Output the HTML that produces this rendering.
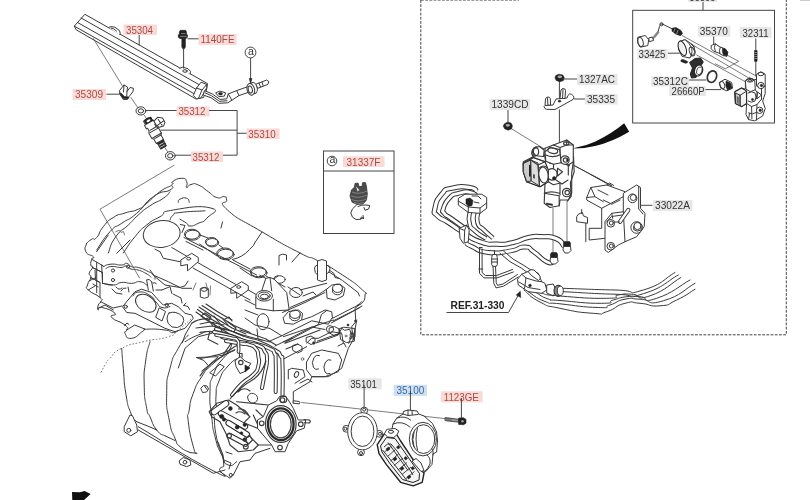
<!DOCTYPE html>
<html lang="en">
<head>
<meta charset="utf-8">
<title>Parts diagram</title>
<style>
html,body{margin:0;padding:0;background:#fff;}
body{width:810px;height:500px;overflow:hidden;font-family:"Liberation Sans",sans-serif;}
svg{display:block;filter:blur(.35px);}
.l{fill:none;stroke:#3a3a3a;stroke-width:1;stroke-linecap:round;stroke-linejoin:round;}
.t{fill:none;stroke:#444;stroke-width:.7;stroke-linecap:round;stroke-linejoin:round;}
.w{fill:#fff;stroke:#3a3a3a;stroke-width:1;stroke-linejoin:round;}
.k{fill:#222;stroke:#222;stroke-width:.6;stroke-linejoin:round;}
.g{fill:#9a9a9a;stroke:#333;stroke-width:.8;stroke-linejoin:round;}
.d{fill:none;stroke:#444;stroke-width:1;stroke-dasharray:2.8 1.4;}
.dot{fill:none;stroke:#555;stroke-width:.8;stroke-dasharray:1.6 1.8;}
.lead{fill:none;stroke:#3c3c3c;stroke-width:.95;}
text{font-family:"Liberation Sans",sans-serif;font-size:10.6px;}
#harness .l,#valve .l,#valve .w{stroke-width:1.150;}
.rb{fill:#f8dad7;} .rt{fill:#ab4c47;}
.bb{fill:#cfe0f3;} .bt{fill:#3c6a9e;}
.gb{fill:#e7e7e7;} .gt{fill:#333;}
</style>
</head>
<body>
<svg width="810" height="500" viewBox="0 0 810 500">
<rect width="810" height="500" fill="#fff"/>

<!-- ===== LABELS ===== -->
<g id="labels">
<rect class="rb" x="123.5" y="24.5" width="33.5" height="10.5"/><text class="rt" x="126" y="33.6" textLength="27" lengthAdjust="spacingAndGlyphs">35304</text>
<rect class="rb" x="198.5" y="34" width="38" height="11"/><text class="rt" x="200.5" y="43.4" textLength="34" lengthAdjust="spacingAndGlyphs">1140FE</text>
<rect class="rb" x="72.5" y="89" width="33.5" height="11"/><text class="rt" x="75" y="98.4" textLength="28" lengthAdjust="spacingAndGlyphs">35309</text>
<rect class="rb" x="176.500" y="106.500" width="33" height="10"/><text class="rt" x="178.400" y="115.300" textLength="27" lengthAdjust="spacingAndGlyphs">35312</text>
<rect class="rb" x="246.500" y="128.500" width="33" height="10.600"/><text class="rt" x="248.300" y="137.600" textLength="27.300" lengthAdjust="spacingAndGlyphs">35310</text>
<rect class="rb" x="191" y="151.500" width="32" height="10.500"/><text class="rt" x="192.500" y="160.600" textLength="27" lengthAdjust="spacingAndGlyphs">35312</text>
<rect class="rb" x="343" y="156.3" width="41.5" height="10.7"/><text class="rt" x="346.5" y="165.5" textLength="34" lengthAdjust="spacingAndGlyphs">31337F</text>
<rect class="rb" x="440.900" y="391.300" width="41.700" height="11.100"/><text class="rt" x="443.700" y="400.700" textLength="35.200" lengthAdjust="spacingAndGlyphs">1123GE</text>
<rect class="bb" x="393.700" y="384.800" width="33.300" height="11.100"/><text class="bt" x="396.500" y="394.200" textLength="27.800" lengthAdjust="spacingAndGlyphs">35100</text>
<rect class="gb" x="348.300" y="378.300" width="33.400" height="11.100"/><text class="gt" x="350.200" y="387.700" textLength="26.800" lengthAdjust="spacingAndGlyphs">35101</text>
<rect class="gb" x="489.5" y="99" width="40.5" height="11"/><text class="gt" x="491.5" y="108.4" textLength="37" lengthAdjust="spacingAndGlyphs">1339CD</text>
<rect class="gb" x="577" y="74" width="40.5" height="11"/><text class="gt" x="579" y="83.4" textLength="36" lengthAdjust="spacingAndGlyphs">1327AC</text>
<rect class="gb" x="585" y="94" width="32.5" height="10.5"/><text class="gt" x="587" y="103.2" textLength="28" lengthAdjust="spacingAndGlyphs">35335</text>
<rect class="gb" x="697.800" y="26" width="32.500" height="10.600"/><text class="gt" x="699.800" y="35.200" textLength="28" lengthAdjust="spacingAndGlyphs">35370</text>
<rect class="gb" x="740" y="27" width="31.5" height="11"/><text class="gt" x="742.5" y="36.5" textLength="26" lengthAdjust="spacingAndGlyphs">32311</text>
<rect class="gb" x="637.500" y="49" width="30" height="10.300"/><text class="gt" x="638.500" y="58" textLength="27" lengthAdjust="spacingAndGlyphs">33425</text>
<rect class="gb" x="651.200" y="76.500" width="37.800" height="10"/><text class="gt" x="653" y="85.300" textLength="34.800" lengthAdjust="spacingAndGlyphs">35312C</text>
<rect class="gb" x="669.200" y="86" width="36.600" height="10"/><text class="gt" x="671.600" y="94.600" textLength="33" lengthAdjust="spacingAndGlyphs">26660P</text>
<rect class="gb" x="653" y="200" width="39.5" height="11"/><text class="gt" x="655" y="209.4" textLength="35" lengthAdjust="spacingAndGlyphs">33022A</text>
<rect class="gb" x="688" y="-9" width="29" height="11"/><text class="gt" x="689.5" y="0.8" textLength="26" lengthAdjust="spacingAndGlyphs">35305</text>
<text x="450.500" y="309" font-weight="bold" font-size="11.200" fill="#222" textLength="54" lengthAdjust="spacingAndGlyphs">REF.31-330</text>
</g>

<!-- ===== BOXES ===== -->
<g id="boxes">
<path class="d" d="M420.800,0V334.800H786.300V0"/>
<path class="d" d="M421,.4H519" stroke-opacity=".6"/>
<rect class="lead" x="632.700" y="10.300" width="141.800" height="112.700" stroke-width="1.250"/>
<path class="lead" d="M703,2V10"/>
<rect class="lead" x="323.5" y="151" width="70.5" height="82.5"/>
<path class="lead" d="M323.5,171H394"/>
<circle class="lead" cx="332" cy="161" r="4.8"/>
<text x="329.6" y="163.4" font-size="7.5" fill="#333">a</text>
<path d="M800,0h10" stroke="#999" stroke-width="1"/>
</g>

<!-- ===== FUEL RAIL GROUP ===== -->
<g id="rail">
<!-- rail body -->
<path class="w" d="M84.900,14.300 L207.500,83.600 L206.500,90 L203.500,97.500 L196,99 L76.200,29.800 L74.300,26.100 Z"/>
<path class="l" d="M81.100,18 L204,87.400"/>
<path class="l" d="M77.400,22.400 L200,91.600"/>
<path class="l" d="M74.300,26.100 L196,94.800"/>
<!-- small mounts on top of rail -->
<path class="w" d="M108.400,27.600 l2.500,-1 l4,.6 l4.600,3.400 l.7,2.600 l-.5,1.700"/>
<path class="l" d="M111,28 q3,.2 5.500,3"/>
<path class="w" d="M179.500,68.500 l3,-1.400 l5.500,1.600 l2.500,2.600 l-.6,3"/>
<ellipse class="l" cx="185" cy="71" rx="2.200" ry="1.300"/>
<!-- leader 35304 -->
<path class="lead" d="M139.200,35V45.300"/>
<!-- bolt 1140FE -->
<path class="k" d="M180.300,30.300 h5.400 l.8,1.600 v2.200 l1,.8 v2.400 l-1.600,1.200 h-6 l-1.600,-1.200 v-2.400 l1,-.8 v-2.200z"/>
<path class="k" d="M181.800,38.500 h3.600 v8.500 l-1,1.800 h-1.600 l-1,-1.800z"/>
<path d="M181,33.600h4.600M180,36.400h6.800" stroke="#ddd" stroke-width=".5" fill="none"/>
<path class="lead" d="M183.600,48.800V68.500"/>
<path class="lead" d="M187.500,38.800H198.500"/>
<!-- leader rail -> clip -->
<path class="t" d="M93.300,38.500 L122.500,86"/>
<!-- clip 35309 -->
<path class="w" d="M119.500,90.500 l4.500,-5.500 l3.500,2 l-.5,4.500 l3,-4 l3.500,.8 l-.6,3.400 l-3.600,4.600 l-1.300,2.700 l-4.500,.7 l-3.500,-5.200z"/>
<path class="k" d="M119.600,93.200 l3.600,5.300 l4.300,.6 l1.200,-2.200 l-4.300,-.5 l-3.400,-3.400z"/>
<path class="l" d="M124,85 l-.5,7 M127,91.500 l-.3,5"/>
<path class="lead" d="M106.500,94.200H119.500"/>
<path class="t" d="M131,97.500 L137.800,107.700"/>
<!-- upper o-ring -->
<ellipse class="l" cx="140.900" cy="110.900" rx="4.900" ry="4.100" stroke-width="1.200"/>
<ellipse class="l" cx="140.900" cy="110.900" rx="2.700" ry="2.100" />
<path class="lead" d="M146,110.500H176.500"/>
<path class="t" d="M144,115 L146.500,118.500"/>
<!-- bracket lines 35312 / 35310 -->
<path class="lead" d="M209,110.500H237.100V155.200H223"/>
<path class="lead" d="M237.100,133.250H246.500"/>
<path class="lead" d="M160.500,130.150 H237.100"/>
<!-- injector -->
<g transform="translate(155.300,132.500) rotate(60)">
<path class="w" d="M-15.500,-3.600 h4 v-1.200 h4 v1.200 h3 l2,-1.400 h6 l1.500,1.400 h5 v1 h7 v6.200 h-7 v1 h-5 l-1.500,1.400 h-6 l-2,-1.400 h-3 v1.200 h-4 v-1.200 h-4 q-1.600,-3.800 0,-7.600z"/>
<path class="k" d="M-15.500,-3.800 h4 v7.600 h-4 q-1.600,-3.800 0,-7.600z"/>
<ellipse cx="-13.600" cy="0" rx="1.100" ry="2.200" fill="#fff"/>
<path class="l" d="M-4.500,-3.600 v7.200 M-2.500,-5 v10 M3.500,-5 v10 M5,-3.600 v7.200 M10,-3.600 v7.200"/>
<path class="k" d="M10.500,-3.400 h1.800 v6.800 h-1.800z M13.600,-3.400 h1.200 v6.800 h-1.200z M16,-3.200 h1 v6.400 h-1z"/>
<path class="w" d="M-10.500,-4.500 l-1.500,-5 l3,-4 l5,0 l2.500,3 l-1,4.500 l-3,1.500z"/>
<path class="l" d="M-10,-9 l7,-.5 M-6,-13 l1,8"/>
</g>
<!-- lower o-ring -->
<ellipse class="l" cx="170.300" cy="155.800" rx="4.900" ry="4.200" stroke-width="1.200"/>
<ellipse class="l" cx="170.300" cy="155.800" rx="2.700" ry="2.200"/>
<path class="lead" d="M175.300,155.200H191"/>
<path class="t" d="M164.500,147 L167.500,151.500"/>
<!-- thin location leader -->
<path class="t" d="M174,165.300 L100,209.200 L139.500,278"/>
<!-- end cap + pipe -->
<path class="w" d="M193.300,95.500 L196.500,88 L201.100,82.200 L206.700,84.400 L206.700,87.800 L201.100,97.800 L196.700,98.900z"/>
<path class="l" d="M196.500,88 L202,90 L206.700,84.400 M202,90 L198.500,98.300"/>
<path class="w" d="M204.400,90.600 L212.200,93.900 L220,99.400 L226.700,98.900 L228.300,93.900 L236.700,90.600 L247.800,86.700 L248.900,92.200 L238.900,95.600 L232.200,100 L227.800,102.800 L218.900,103.300 L211.100,97.800 L203.300,95z"/>
<path class="l" d="M228.300,93.900 L231.700,100 M236.700,90.600 L238.900,95.600 M205,92.800 L211.600,95.800 L219.400,101.300 L227,100.800"/>
<path class="w" d="M215.600,92.800 L220,91.100 L225.600,92.800 L224.400,96.100 L218.900,96.700z"/>
<ellipse class="k" cx="220.500" cy="93.800" rx="2" ry="1.200"/>
<!-- connector -->
<path class="w" d="M255.600,84.400 L266.700,80 L268.900,81.700 L267.800,84.400 L257.800,88.300z"/>
<path class="l" d="M259,83 l1.500,4 M262,82 l1,3.500"/>
<ellipse class="w" cx="253.800" cy="88" rx="3.300" ry="5.600" transform="rotate(-15 253.800 88)"/>
<ellipse class="w" cx="250.800" cy="89.300" rx="3.700" ry="6" transform="rotate(-15 250.800 89.300)" stroke-width="1.300"/>
<ellipse class="l" cx="250.300" cy="89.500" rx="2" ry="3.600" transform="rotate(-15 250.300 89.500)"/>
<!-- circle a -->
<circle class="lead" cx="250.500" cy="52.500" r="5.400"/>
<text x="248" y="55" font-size="7.500" fill="#333">a</text>
<path class="lead" d="M250.600,58V80"/>
<path class="k" d="M249.300,78.500 h2.600 l-1.300,5z"/>
</g>

<!-- ===== ENGINE: VALVE COVER ===== -->
<g id="cover">
<!-- outer wavy top-left edges -->
<path class="l" d="M86.7,243.3 C88.4,241.9 88.4,241.1 91.7,239.2 C95.0,237.3 92.8,241.7 96.7,237.5 C100.6,233.3 97.8,233.4 103.3,226.7 C108.8,220.0 106.1,222.1 113.3,217.5 C120.5,212.9 116.7,215.8 125.0,213.0 C133.3,210.2 131.1,212.4 138.3,209.2 C145.5,206.0 139.5,209.1 146.7,203.3 C153.9,197.5 151.7,197.8 160.0,191.7 C168.3,185.6 167.5,188.3 171.7,185.0 C175.9,181.7 169.2,183.9 172.5,181.7 C175.8,179.5 177.0,178.3 181.7,178.3 C186.4,178.3 185.0,178.6 186.7,181.7 C188.4,184.8 185.3,186.6 186.7,187.5 C188.1,188.4 187.1,185.3 191.0,184.5 C194.9,183.7 192.5,182.6 198.3,185.0 C204.1,187.4 202.2,187.5 208.3,191.7 C214.4,195.9 211.4,195.8 216.7,197.5 C222.0,199.2 220.9,195.9 224.2,196.7 C227.5,197.5 225.6,195.6 226.7,200.0 C227.8,204.4 215.8,199.4 227.5,210.0 C239.2,220.6 237.5,217.4 261.7,231.7 C285.9,246.0 281.4,243.4 300.0,253.0 C318.6,262.6 303.3,253.2 317.5,260.5 C331.7,267.8 327.5,265.2 342.5,275.0 C357.5,284.8 355.0,283.3 362.5,290.0 C370.0,296.7 365.0,290.8 365.0,295.0 C365.0,299.2 365.0,299.2 362.5,302.5 C360.0,305.8 359.2,304.2 357.5,305.0"/>
<path class="l" d="M96.7,250.0 C101.1,243.9 101.7,240.6 110.0,231.7 C118.3,222.8 112.8,229.4 121.7,223.3 C130.6,217.2 126.2,222.2 136.7,213.3 C147.2,204.4 142.2,204.5 153.3,196.7 C164.4,188.9 163.9,193.6 170.0,190.0 C176.1,186.4 171.1,187.2 171.7,185.8"/>
<path class="l" d="M108.3,253.0 C110.8,247.6 109.1,246.0 115.8,236.7 C122.5,227.4 120.8,232.2 128.3,225.0 C135.8,217.8 131.1,221.4 138.3,215.0 C145.5,208.6 141.7,211.4 150.0,205.8 C158.3,200.2 156.6,203.0 163.3,198.3 C170.0,193.6 167.8,193.9 170.0,191.7"/>
<path class="l" d="M123.3,253.0 C127.2,247.6 127.2,246.0 135.0,236.7 C142.8,227.4 138.4,231.7 146.7,225.0 C155.0,218.3 151.1,221.7 160.0,216.7 C168.9,211.7 156.4,212.9 173.3,210.0 C190.2,207.1 199.7,205.2 210.8,208.0 C221.9,210.8 210.9,213.2 206.7,218.3 C202.5,223.4 203.9,220.7 198.3,223.3 C192.7,225.9 193.9,226.0 190.0,226.0 C186.1,226.0 190.0,225.6 186.7,223.3 C183.4,221.0 182.2,220.6 180.0,219.2"/>
<path class="l" d="M170.0,220.0 C171.1,218.3 170.0,217.5 173.3,215.0 C176.6,212.5 169.4,213.9 180.0,212.5 C190.6,211.1 196.7,211.4 205.0,210.8"/>
<path class="l" d="M178.3,202.5 C178.9,201.4 177.2,200.6 180.0,199.2 C182.8,197.8 183.6,197.2 186.7,198.3 C189.8,199.4 188.4,201.1 189.2,202.5"/>
<path class="t" d="M115.800,231.700 l3.400,-1.500 l1.800,2.200 l2.500,-.8 l1,3.300"/>
<!-- oil filler cap -->
<ellipse class="w" cx="161.700" cy="234" rx="18.500" ry="13.300" transform="rotate(-8 161.700 234)"/>
<path class="l" d="M180.500,224.500 l4.500,1 l-3,7"/>
<!-- coil holes -->
<g class="l">
<ellipse cx="192" cy="234.200" rx="7.500" ry="5"/><ellipse cx="192.800" cy="235.200" rx="7.500" ry="5"/>
<ellipse cx="211.700" cy="241.700" rx="6.300" ry="4.200"/><ellipse cx="212.300" cy="242.700" rx="6.300" ry="4.200"/>
<ellipse cx="225" cy="253.300" rx="8.300" ry="5.300"/><ellipse cx="225.800" cy="254.500" rx="8.300" ry="5.300"/>
<ellipse cx="258.300" cy="271.700" rx="8" ry="5"/><ellipse cx="259" cy="272.800" rx="8" ry="5"/>
<ellipse cx="279.200" cy="279.500" rx="6" ry="3.800"/>
<ellipse cx="296" cy="292.500" rx="6.300" ry="5"/>
</g>
<!-- rails along coil row -->
<path class="l" d="M184,237.500 L256.700,275 M186,241.500 L203,250 M171.700,247.500 L236.700,285 M199.500,244 L217,256 M233,260 L250,269 M240,268 L252,276 M266,276 L285,287 M288,287 L300,295"/>
<path class="l" d="M200,235 l8,3 M219,245 l4,3 M232.500,259.500 q10,-2 17,-10 q5,-4 6,-8 M221,228 l1.500,-6"/>
<!-- brackets -->
<path class="w" d="M180.800,260 L191.700,253.300 L198.300,257.500 L198.300,261.700 L187.500,270.800 L187.500,264.500 L180.800,265.800z"/>
<ellipse class="l" cx="188.700" cy="258.700" rx="2" ry="1.300"/>
<path class="w" d="M230.800,288.300 L241.700,281.700 L248.300,285.800 L248.300,290 L236.700,298.300 L236.700,292.500 L230.800,293.300z"/>
<ellipse class="l" cx="238.700" cy="287" rx="2" ry="1.300"/>
<!-- cover front lower lines -->
<path class="l" d="M155,249.200 L160,251.700 L163.300,258.300 L171.700,260 L180,261.700"/>
<path class="l" d="M193,268 L250,300 M248.300,290 L262,298"/>
<path class="l" d="M150,270 L155,276.700 L165,285 L180,287.500 L185,285.800 L188,281"/>
<path class="t" d="M193,290 l3,-7 M206,283 l2,8 M210.500,286 l-.5,9"/>
<!-- sensor on cover front -->
<path class="w" d="M200.300,288.500 q4,-2.500 8,0 v8.500 q-4,2.500 -8,0z"/>
<ellipse class="l" cx="204.300" cy="289.500" rx="3" ry="1.800"/>
<!-- hook + cylinder on right -->
<path class="l" d="M279,265 V255.500 q3.500,-2.500 7.500,-.5 V260"/>
<path class="w" d="M317.500,261 q4.500,-3 9,0 V280 q-4.500,3 -9,0z"/>
<path class="l" d="M314.500,268 q0,-2.500 3,-3 M326.500,265 q3.500,.5 3.500,3.500 q0,4.500 -3.500,5.500 M317.500,275 q-3,-1.500 -3,-6.500"/>
<path class="l" d="M330,270.500 l4,3 l1,4 l4,1"/>
</g>

<!-- ===== ENGINE: HEAD LEFT SIDE ===== -->
<g id="headleft">
<path class="l" d="M86.7,243.3 C86.4,246.1 83.6,247.2 85.8,251.7 C88.0,256.2 91.3,254.2 93.3,256.7 C95.3,259.2 92.5,256.4 91.7,259.2 C90.9,262.0 90.5,262.2 90.8,265.0 C91.1,267.8 93.0,264.7 92.5,267.5 C92.0,270.3 89.8,270.0 89.2,273.3 C88.6,276.6 91.4,273.6 90.8,277.5 C90.2,281.4 88.3,280.8 87.5,285.0 C86.7,289.2 84.1,285.8 88.3,290.0 C92.5,294.2 95.8,293.6 100.0,297.5 C104.2,301.4 101.4,299.2 100.8,301.7 C100.2,304.2 99.1,302.2 98.3,305.0 C97.5,307.8 97.2,309.2 98.3,310.0 C99.4,310.8 96.1,306.4 101.7,307.5 C107.3,308.6 111.7,310.0 115.0,313.3 C118.3,316.6 108.4,313.6 111.7,317.5 C115.0,321.4 120.0,320.8 125.0,325.0 C130.0,329.2 126.7,327.2 126.7,330.0 C126.7,332.8 123.3,330.5 125.0,333.3 C126.7,336.1 125.6,339.1 131.7,338.3 C137.8,337.5 138.3,333.8 143.3,330.8 C148.3,327.8 139.5,329.5 146.7,329.2 C153.9,328.9 156.1,328.9 165.0,330.0 C173.9,331.1 168.0,333.2 173.3,332.5 C178.6,331.8 178.4,329.5 181.0,328.0"/>
<path class="l" d="M91.700,259.200 L103.300,266 M92.500,267.500 L102.500,272.500 M90.800,277.500 L100,282.500 L100,297.500 M101.700,265 L102.500,283.300 L112.500,285 M88.300,290 L95,286 M95,270 L95.500,279 M100.800,301.700 L113,308 L122,306"/>
<path class="l" d="M96.700,251.700 L108.300,235 M116.700,253.300 L130,240"/>
<path class="l" d="M96.700,262.500 L96.700,292.500 M92.500,267.500 L102.500,272.500 L102.500,283.300 M90.800,277.500 L100,282.500 M93,284 l5,3 M89,281 l6,-3"/>
<!-- upper heat-shield flange -->
<path class="l" stroke-width="1.300" d="M103.3,266.7 C105.8,265.9 104.7,264.8 110.8,264.2 C116.9,263.6 116.4,265.3 121.7,265.0 C127.0,264.7 123.4,262.7 126.7,263.3 C130.0,263.9 127.8,265.3 131.7,266.7 C135.6,268.1 133.3,266.1 138.3,267.5 C143.3,268.9 141.7,268.3 146.7,270.8 C151.7,273.3 150.5,272.2 153.3,275.0 C156.1,277.8 154.4,277.8 155.0,279.2"/>
<path class="l" d="M106.0,268.5 C108.0,267.8 107.0,266.8 112.0,266.5 C117.0,266.2 116.3,267.7 121.0,267.5 C125.7,267.3 122.7,265.5 126.0,266.0 C129.3,266.5 127.0,267.7 131.0,269.0 C135.0,270.3 133.0,268.5 138.0,270.0 C143.0,271.5 141.7,271.2 146.0,273.5 C150.3,275.8 149.3,275.8 151.0,277.0"/>
<path class="l" d="M102.5,283.3 C106.1,283.9 106.9,285.3 113.3,285.0 C119.7,284.7 115.6,283.1 121.7,282.5 C127.8,281.9 125.6,283.6 131.7,283.3 C137.8,283.0 135.0,281.1 140.0,281.7 C145.0,282.3 144.5,283.9 146.7,285.0"/>
<circle class="l" cx="113" cy="270.500" r="1.600"/><circle class="l" cx="128" cy="266.700" r="1.600"/><circle class="l" cx="113" cy="280" r="1.600"/>
<path class="l" d="M116,287 q3,4 6,1 M121,291 q2,-4 5,-3 M128,287 l1,5 M112,289 l4,4 l6,1"/>
<path class="l" d="M146.700,280 l1.600,10 M151.700,282 l1.600,9 M146.700,280 q2.500,-2 5,2 M153,283 q2,-1 3.300,.5"/>
<path class="l" d="M155,275.800 L168.300,281.700 L181.700,288.300 L191.700,288.300 M161.700,290 L170,286.700 L171.700,293.300 M156,290 l5.500,0 M173,294 l8,4 l1,5"/>
<!-- exhaust flange -->
<path class="w" d="M122.500,306.700 L135,291.700 L141.700,289.200 L151.700,292.500 L158.300,300 L163.300,305 L171.700,303.300 L178.300,306.700 L185,313.300 L191.700,315 L193.300,318.300 L185,328.300 L175,331.700 L165,328.300 L135,313.300 L126.700,312.500z"/>
<path class="l" d="M133.0,296.0 C135.0,294.7 133.3,292.2 139.0,292.0 C144.7,291.8 144.3,292.2 150.0,295.5 C155.7,298.8 152.0,298.0 156.0,302.0 C160.0,306.0 157.3,306.0 162.0,307.5 C166.7,309.0 167.3,306.8 170.0,306.5"/>
<ellipse class="l" cx="145.800" cy="303.300" rx="11.200" ry="7.800" transform="rotate(33 145.800 303.300)"/>
<path class="l" d="M159.500,308 l6,3.500 l-3.500,9.500 l-6,-3.500z"/>
<path class="l" d="M169,313 q7,-3 14,4 q2,3 -1,8 q-4,4 -10,2 q-5,-3 -5,-8 q0,-4 2,-6z"/>
<circle class="l" cx="125.800" cy="306.700" r="1.600"/><circle class="l" cx="166.700" cy="305" r="1.600"/>
<path class="l" d="M184,305.500 l4,1 l1.500,3 M186,303 l-2.500,2.500"/>
<!-- lower bits -->
<path class="l" d="M98.300,308.300 L105,305 L113.300,310 M124.500,325.500 l2.500,-2.500 l2,1.500 M126.700,330 l8,-5 l10,4"/>
<!-- dotted curve -->
<path class="dot" d="M101.0,372.5 C102.3,370.0 102.0,369.7 105.0,365.0 C108.0,360.3 104.4,363.9 110.0,358.3 C115.6,352.7 110.6,353.8 121.7,348.3 C132.8,342.8 127.8,345.6 143.3,341.7 C158.8,337.8 156.6,340.6 168.3,336.7 C180.0,332.8 170.5,336.1 178.3,330.0 C186.1,323.9 187.2,322.2 191.7,318.3"/>
</g>

<!-- ===== ENGINE: HEAD RIGHT SIDE ===== -->
<g id="headright">
<!-- filler neck -->
<path class="w" d="M261.700,290.800 L265.800,278.300 L270,277.500 L274,279 L286.700,292.500 L289.200,310 L273.300,310.800 L255.800,308.300 L255.800,297z"/>
<path class="l" d="M270,277.500 L271.700,290.800 M273.300,299.200 V310.800 M265.800,278.300 l-6,-3 M274,279 l4,-3"/>
<ellipse class="w" cx="264.200" cy="295.800" rx="8.300" ry="5.300"/>
<ellipse class="l" cx="264.200" cy="295.800" rx="6" ry="3.700" stroke-width="1.300"/>
<ellipse class="l" cx="264.500" cy="296.500" rx="4" ry="2.300"/>
<!-- bosses -->
<path class="l" d="M326.700,289.200 L331.700,285 L340,284.200 L345,288.300 L343.300,295.800 L335,300 L327.500,298.300z"/>
<ellipse class="l" cx="337.500" cy="288.300" rx="5" ry="4.200"/>
<path class="l" d="M332.600,288.500 v3.500 q2,3.500 7,2.500 q3,-1 2.800,-5"/>
<path class="l" d="M283.300,317.500 L288.300,311.700 L298.300,310 L302.500,313.300 L301.700,320 L293.300,324.200 L285,323.300z"/>
<ellipse class="l" cx="295" cy="314.200" rx="5.300" ry="4.200"/>
<path class="l" d="M289.800,314.500 v3.500 q2,3.500 7,2.500 q3.400,-1 3.400,-5"/>
<ellipse class="l" cx="263" cy="321.700" rx="6" ry="8"/>
<!-- cover bottom structure lines -->
<path class="l" d="M300,290 L326.700,283.300 M290,307.500 L316.700,295.800 L326.700,289.200 M303,296 l10,-4 l3,3"/>
<path class="l" d="M302,320 L311.700,316.700 L325,310 L331.700,311.700 L332.500,318.300 L358.300,305 L361.700,301.700"/>
<path class="l" d="M270,341 L281.700,335.800 L311.700,320.800 L328.300,324.200 L331.700,318.300"/>
<path class="l" d="M275,346 L283.300,342 L311.700,327 L325,329.500"/>
<circle class="l" cx="330" cy="329.200" r="3.600"/>
<path class="l" d="M245,300 L255,305 M245,310 L258,315 M245,318 L255,325 L270,328.500 L281.700,335.800 M257,329 l1,10 l12,3"/>
<path class="l" d="M329,272 L342.500,280.500 L358,292.500 L359.500,296 M282.500,312.500 L305,302.500 L325,292.500 M333.300,320.800 L360,307.500 M300,253 l-8,9 M262,232 l-6,9"/>
<path class="l" d="M285,342.500 L318.600,324.300 L321.400,314.500 L327,310.300 M331.200,323 L352.200,311.800 L362,306 M339.600,328.600 L343.800,327.200 L355,328.600 L354.300,341.200 L346.600,342.600 L341,339.800z M317.200,341.200 L341,332.800"/>
<circle class="l" cx="352" cy="335" r="2"/><circle class="k" cx="348" cy="325" r="1"/><circle class="k" cx="355.500" cy="321" r="1"/><circle class="k" cx="313.800" cy="343" r="1.200"/>
<!-- right end -->
<path class="l" d="M360,304.200 L355,308.300 L355.800,321.700 L351.700,326.700 L353.300,340 L356.700,320 M355,330 L355,336.700 L348.300,348.300 L345,358.300 L341.700,368.300 L328.300,376.700 L311.700,376.700 L310,381.700 L293.300,391.700 L293.300,403"/>
<path class="l" d="M306.700,343 L311.700,338.300 L318.300,338.300 L331.700,331.700 L341.700,333.300 L343.300,343"/>
<circle class="t" cx="352" cy="333" r="1"/><circle class="t" cx="350.500" cy="338" r="1.300"/><circle class="t" cx="346" cy="336" r="1"/>
<!-- exhaust-like port plate on right -->
<path class="l" d="M306.700,361.700 L311.700,353.300 L321.700,350 L338.300,353.300 L341.700,360 L338.300,371.700 L325,376.700 L311.700,376.700 L306.700,370z"/>
<path class="l" d="M319.500,355.500 q-3,-1.500 -5.500,2 q-3,5 -.5,10 q2,3 5,1.500 M331,360 q-3,-1.500 -5.500,2 q-3,5 -.5,10 q2,3 5,1.500"/>
<path class="l" d="M341.700,328.300 l3,2 l5,-1 l2,6 l-3,8 M338,346 l6,-3 l2,4 M300,383 l8,-4 l4,3"/>
<path class="l" d="M293,345.500 l4.500,-1.500 l4.500,2.500 v4.500 l-4.500,2 l-4.500,-2.500z M306.500,337.500 l4.500,-1.500 l4,2.500 v4.500 l-4,1.500 l-4.500,-2.500z M329.500,328 l5,-1.500 l4.500,2.500 v5 l-5,1.500 l-4.500,-2.500z"/>
<path class="l" d="M283.300,336.700 L333.300,320 M281.700,360 L306.700,346.700 M316,343 L338.300,335 L341.700,328.300 M283,342 l10,-4"/>
<path class="l" d="M288.300,370 L291.700,368.300 L303.300,370 L305,376.700 L295,383.300 M288.300,370 l0,9"/>
<ellipse class="l" cx="296.500" cy="374.500" rx="2" ry="3" transform="rotate(25 296.500 374.500)"/>
<circle class="t" cx="302.500" cy="359" r="1.300"/>
</g>

<!-- ===== ENGINE: INTAKE MANIFOLD ===== -->
<g id="manifold">
<!-- runners -->
<path class="l" d="M121.7,348.3 C122.2,355.0 121.9,353.3 123.3,368.3 C124.7,383.3 123.3,378.4 125.8,393.3 C128.3,408.2 127.2,403.5 130.8,413.0 C134.4,422.5 134.7,418.8 136.7,421.7"/>
<path class="l" d="M150.0,341.7 C148.6,347.8 147.7,345.6 145.8,360.0 C143.9,374.4 143.9,368.9 144.2,385.0 C144.5,401.1 144.8,397.7 146.7,408.3 C148.6,418.9 146.7,409.5 150.0,416.7 C153.3,423.9 151.7,423.6 156.7,430.0 C161.7,436.4 162.2,433.9 165.0,435.8"/>
<path class="l" d="M188.3,335.0 C185.0,339.4 184.4,337.2 178.3,348.3 C172.2,359.4 173.9,353.3 170.0,368.3 C166.1,383.3 167.0,376.1 166.7,393.3 C166.4,410.5 166.4,405.0 169.2,420.0 C172.0,435.0 171.4,429.4 175.0,438.3 C178.6,447.2 175.0,442.0 180.0,446.7 C185.0,451.4 186.7,450.6 190.0,452.5"/>
<path class="l" d="M230.0,350.8 C223.9,355.5 221.1,356.4 211.7,365.0 C202.3,373.6 207.8,367.3 201.7,376.7 C195.6,386.1 197.5,382.2 193.3,393.3 C189.1,404.4 190.9,400.5 189.2,410.0 C187.5,419.5 186.9,409.5 188.3,421.7 C189.7,433.9 190.5,436.2 193.3,446.7 C196.1,457.2 195.6,451.1 196.7,453.3"/>
<path class="l" d="M136.700,421.700 L150,427 L156.700,430 M165,435.800 L175,440.500 M190,452.500 L196.700,453.300"/>
<path class="l" d="M191.700,323.300 L185,335 L182.500,342.500 M178.300,368 L185,348.300 L198.300,336.700 L211.700,333.300"/>
<!-- triangle + slot + hex on plenum end -->
<path class="l" d="M196.700,357.500 L218.300,356.700 L208.300,365.800 L204.200,360.800z M208.300,365.800 L201.700,371"/>
<path class="l" d="M210,372.500 L220,364.200 L224.200,366.700 L215.800,375.800z"/>
<path class="l" d="M201,388 l2.500,-2.500 l3.500,.5 l1.500,3 l-2,3 l-3.500,.5z M204.500,386 l2.500,3.500"/>
<!-- plenum end arcs -->
<path class="l" d="M185.0,341.7 C189.4,339.5 189.4,338.3 198.3,335.0 C207.2,331.7 202.2,331.1 211.7,331.7 C221.2,332.3 220.0,332.8 226.7,336.7 C233.4,340.6 231.7,337.8 231.7,343.3 C231.7,348.8 228.4,350.0 226.7,353.3"/>
<path class="l" d="M235.0,350.0 C231.1,352.8 230.5,350.0 223.3,358.3 C216.1,366.6 217.7,363.9 213.3,375.0 C208.9,386.1 210.5,377.8 210.0,391.7 C209.5,405.6 210.0,401.7 211.7,416.7 C213.4,431.7 211.7,423.9 215.0,436.7 C218.3,449.5 217.3,445.6 221.7,455.0 C226.1,464.4 223.3,462.8 228.3,465.0 C233.3,467.2 233.9,462.8 236.7,461.7"/>
<path class="l" d="M240.0,357.0 C236.0,360.0 235.0,358.0 228.0,366.0 C221.0,374.0 223.0,371.0 219.0,381.0 C215.0,391.0 216.7,386.3 216.0,396.0 C215.3,405.7 216.7,405.3 217.0,410.0"/>
<!-- base bar -->
<path class="l" stroke-width="1.300" d="M138.3,426.7 C162.8,441.1 184.5,456.1 211.7,470.0 C238.9,483.9 216.1,471.6 220.0,468.3 C223.9,465.0 224.4,470.0 223.3,460.0 C222.2,450.0 219.7,452.7 216.7,438.3 C213.7,423.9 215.0,423.9 214.2,416.7"/>
<path class="l" d="M138.300,430 L213.300,473.300 L225,470 M220,471.700 L230,478.300 L233.300,475 L240,461.700 L250,460 L255,453.300 L270,448.300"/>
<path class="l" d="M218,442 l5,13 l1,8 M226,452 l6,2 M224,460 l7,3 l-2,6"/>
<circle class="l" cx="230.800" cy="475" r="1.600"/>
<!-- tabs -->
<path class="w" d="M124.200,426.700 L130,415 L132.500,415.800 L136.700,425 L137.500,431.700 L130.800,435.800 L124.200,431.700z"/>
<circle class="l" cx="128.800" cy="430.300" r="2"/>
<path class="w" d="M179.200,460.800 L183.300,457.500 L190,460 L190.800,465 L186.700,466.700 L180,464.200z"/>
<circle class="l" cx="185" cy="462.200" r="1.800"/>
</g>
<!-- ===== ENGINE: HARNESS / INJECTORS / FLANGE ===== -->
<g id="harness">
<path class="l" d="M196,328 L212,326 L226,329 L236,333 M200,324 l10,-2 l14,3 M228,322 l8,6 l-3,6"/>
<path class="l" d="M191.700,323.300 q8,-6 20,-4 M207,318 l6,8 M214,316 l7,9 M222,318 l6,7"/>
<path class="l" d="M200,332.400 L209.900,331.200 L224.800,337.400 L231,343.600 L222.300,356 L218.600,354.800 M209.900,331.200 l-2,8 l10,5"/>
<path class="l" d="M200.0,358.5 C204.1,357.7 204.1,358.1 212.4,356.0 C220.7,353.9 216.9,355.6 224.8,352.3 C232.7,349.0 230.2,349.0 236.0,346.1 C241.8,343.2 240.1,344.4 242.2,343.6"/>
<path class="l" d="M200.0,375.9 C202.5,373.0 201.2,373.0 207.4,367.2 C213.6,361.4 209.5,364.3 218.6,358.5 C227.7,352.7 229.3,352.7 234.7,349.8"/>
<path d="M216.0,329.0 C221.3,330.3 221.7,329.7 232.0,333.0 C242.3,336.3 237.8,335.9 247.0,339.0 C256.2,342.1 250.5,338.8 259.6,342.4 C268.7,346.0 267.4,345.3 274.4,349.8 C281.4,354.3 277.9,351.0 280.6,356.0 C283.3,361.0 281.9,350.7 282.5,364.7 C283.1,378.7 282.5,386.9 282.5,398.0" fill="none" stroke="#333" stroke-width="4.0" stroke-linecap="round"/><path d="M216.0,329.0 C221.3,330.3 221.7,329.7 232.0,333.0 C242.3,336.3 237.8,335.9 247.0,339.0 C256.2,342.1 250.5,338.8 259.6,342.4 C268.7,346.0 267.4,345.3 274.4,349.8 C281.4,354.3 277.9,351.0 280.6,356.0 C283.3,361.0 281.9,350.7 282.5,364.7 C283.1,378.7 282.5,386.9 282.5,398.0" fill="none" stroke="#fff" stroke-width="2.0" stroke-linecap="round"/>
<path d="M214.0,332.0 C219.3,333.3 220.0,333.0 230.0,336.0 C240.0,339.0 235.4,338.5 244.0,341.0 C252.6,343.5 247.3,341.1 255.8,343.6 C264.3,346.1 263.3,345.3 269.5,348.6 C275.7,351.9 272.3,349.0 274.4,353.5 C276.5,358.0 275.3,349.4 275.7,362.2 C276.1,375.0 275.7,382.1 275.7,392.0" fill="none" stroke="#333" stroke-width="4.0" stroke-linecap="round"/><path d="M214.0,332.0 C219.3,333.3 220.0,333.0 230.0,336.0 C240.0,339.0 235.4,338.5 244.0,341.0 C252.6,343.5 247.3,341.1 255.8,343.6 C264.3,346.1 263.3,345.3 269.5,348.6 C275.7,351.9 272.3,349.0 274.4,353.5 C276.5,358.0 275.3,349.4 275.7,362.2 C276.1,375.0 275.7,382.1 275.7,392.0" fill="none" stroke="#fff" stroke-width="2.0" stroke-linecap="round"/>
<path d="M222.0,337.0 C226.7,338.3 226.8,338.8 236.0,341.0 C245.2,343.2 241.7,341.9 249.6,343.6 C257.5,345.3 254.6,343.6 259.6,346.1 C264.6,348.6 262.0,346.5 264.5,351.0 C267.0,355.5 267.0,351.8 267.0,359.7 C267.0,367.6 266.2,365.2 264.5,374.6 C262.8,384.0 262.8,383.5 262.0,388.0" fill="none" stroke="#333" stroke-width="4.0" stroke-linecap="round"/><path d="M222.0,337.0 C226.7,338.3 226.8,338.8 236.0,341.0 C245.2,343.2 241.7,341.9 249.6,343.6 C257.5,345.3 254.6,343.6 259.6,346.1 C264.6,348.6 262.0,346.5 264.5,351.0 C267.0,355.5 267.0,351.8 267.0,359.7 C267.0,367.6 266.2,365.2 264.5,374.6 C262.8,384.0 262.8,383.5 262.0,388.0" fill="none" stroke="#fff" stroke-width="2.0" stroke-linecap="round"/>
<path d="M226.0,341.0 C231.0,341.9 233.1,342.3 241.0,343.6 C248.9,344.9 244.7,343.2 249.6,344.9 C254.5,346.6 252.9,344.9 255.8,348.6 C258.7,352.3 257.5,350.2 258.3,356.0 C259.1,361.8 260.0,359.8 258.3,366.0 C256.6,372.2 258.7,368.8 253.3,374.6 C247.9,380.4 249.3,376.5 242.2,383.3 C235.1,390.1 235.4,391.1 232.0,395.0" fill="none" stroke="#333" stroke-width="4.0" stroke-linecap="round"/><path d="M226.0,341.0 C231.0,341.9 233.1,342.3 241.0,343.6 C248.9,344.9 244.7,343.2 249.6,344.9 C254.5,346.6 252.9,344.9 255.8,348.6 C258.7,352.3 257.5,350.2 258.3,356.0 C259.1,361.8 260.0,359.8 258.3,366.0 C256.6,372.2 258.7,368.8 253.3,374.6 C247.9,380.4 249.3,376.5 242.2,383.3 C235.1,390.1 235.4,391.1 232.0,395.0" fill="none" stroke="#fff" stroke-width="2.0" stroke-linecap="round"/>
<path d="M216.0,335.0 C221.0,336.0 223.9,336.3 231.0,338.0 C238.1,339.7 234.7,337.3 237.2,340.0 C239.7,342.7 238.1,342.0 238.5,346.0 C238.9,350.0 238.5,350.0 238.5,352.0" fill="none" stroke="#333" stroke-width="3.6" stroke-linecap="round"/><path d="M216.0,335.0 C221.0,336.0 223.9,336.3 231.0,338.0 C238.1,339.7 234.7,337.3 237.2,340.0 C239.7,342.7 238.1,342.0 238.5,346.0 C238.9,350.0 238.5,350.0 238.5,352.0" fill="none" stroke="#fff" stroke-width="1.6" stroke-linecap="round"/>
<path class="l" d="M236,333 l14,4 l12,3 M240,330 l12,4 l14,5 l10,6"/>
<path class="l" d="M199,307 L214,317 L232,328 L246,334 M197.500,309.500 L212,319.500 L230,330.500 L244,336.500 M196,312 L210,322 L228,333 M202,305.500 L216,314.500 L234,325.500 L250,332.500 M206,304 l12,8 l14,8"/>
<path class="l" d="M201,316 l4,-3 l6,4 l-3,4z M213,322 l3,5 M219,326 l3,5 M225,319 l4,-2 l3,4"/>
<!-- stud bracket -->
<path class="w" d="M235,361 L240,356.500 L245,361 L251,363.500 L245,371.500 L240,373.500 L236,366.500z"/>
<path class="k" d="M245,365 l5,3 l-5,4z"/>
<circle class="l" cx="240.800" cy="362.500" r="2.200"/><path class="l" d="M239.500,357 v-3.500 h2.600 v3.500"/>
<path class="l" d="M238,392 q6,-6 12,-1 M230,399 q10,-12 24,-20 q8,-6 12,-18"/>
<path class="l" d="M285,343.300 L320,330 M286,349 l12,-5"/>
<!-- injector bracket -->
<path class="l" d="M209.200,411.700 L216.700,403.300 L228.300,400 L236.700,405 L250,416.700 L245,421.700 L241.700,428.300 L251.700,438.300 L258.300,445 L253.300,450 L238.300,451.700 L230,445 L226.700,435 L220,421.700 L211.700,416.700z"/>
<path d="M214,412 L226,403.5" fill="none" stroke="#2a2a2a" stroke-width="6.6" stroke-linecap="round"/><path d="M214,412 L226,403.5" fill="none" stroke="#fff" stroke-width="4.6" stroke-linecap="round"/>
<path d="M221,413.5 L245,426.5" fill="none" stroke="#2a2a2a" stroke-width="6.4" stroke-linecap="round"/><path d="M221,413.5 L245,426.5" fill="none" stroke="#fff" stroke-width="4.4" stroke-linecap="round"/>
<path d="M228.5,423 L247,434.5" fill="none" stroke="#2a2a2a" stroke-width="6.2" stroke-linecap="round"/><path d="M228.5,423 L247,434.5" fill="none" stroke="#fff" stroke-width="4.2" stroke-linecap="round"/>
<path d="M229.5,435.5 L245.5,444" fill="none" stroke="#2a2a2a" stroke-width="5.6" stroke-linecap="round"/><path d="M229.5,435.5 L245.5,444" fill="none" stroke="#fff" stroke-width="3.6" stroke-linecap="round"/>
<g class="k"><circle cx="221.700" cy="416.500" r="2.100"/><circle cx="224" cy="419.500" r="1.700"/><circle cx="230.400" cy="408.500" r="1.900"/><circle cx="237.200" cy="427.200" r="1.900"/><circle cx="244.700" cy="424.700" r="1.700"/><circle cx="244.800" cy="439.600" r="1.900"/><circle cx="241.500" cy="433" r="1.300"/></g>
<circle class="l" cx="229.200" cy="435.800" r="2.200" stroke-width="1.300"/><circle class="l" cx="245.800" cy="446.700" r="2.400" stroke-width="1.300"/>
<path class="l" d="M244.500,440 l5,-5 l3,5 l-4,4z M236,413 q4,-3 9,1 M238.500,409 q6,-1 10,6"/>
<path class="w" d="M247.500,397 q1.500,-4.500 6,-3.500 q4.500,1.500 4,6 q-1.500,4 -6,3.500 q-4,-1.500 -4,-6z"/>
<!-- funnel to flange -->
<path class="l" d="M236.700,401.700 L268.300,405 M245,423.300 L257.500,428.300 M253.300,415 L261.700,433.300 M256,410 L263,416.700 M258.300,445 L271.700,445"/>
<!-- throttle flange -->
<path class="w" d="M276.700,400.800 L279.500,396.500 L285.500,396.500 L288.300,400 L293.300,408.300 L298.300,420 L305.800,420 L304.200,428.300 L296.700,430.800 L288.300,443.300 L285,451.700 L275,451.700 L271.700,445 L261.700,433.300 L257.500,428.300 L257.500,420 L263.300,416.700 L268.300,405z"/>
<ellipse class="l" cx="280.800" cy="424" rx="15.300" ry="18.400"/>
<ellipse cx="280.800" cy="424.300" rx="12.800" ry="15.900" fill="#fff" stroke="#2a2a2a" stroke-width="2.300"/>
<ellipse class="l" cx="280.800" cy="424.300" rx="10.400" ry="13.500"/>
<circle class="l" cx="282.500" cy="400" r="2.300" stroke-width="1.300"/><circle class="l" cx="261.700" cy="423.300" r="2.300" stroke-width="1.300"/><circle class="l" cx="300.800" cy="424.200" r="2.300" stroke-width="1.300"/><circle class="l" cx="280" cy="447.500" r="2.300" stroke-width="1.300"/>
<path class="l" d="M304,419.500 l5.500,.5 q1.500,1.500 0,3 l-5,-.3"/>
<circle class="l" cx="283.300" cy="399.200" r="3.500"/>
<path class="w" d="M293.300,400.700 l6,.8 q1.200,1.200 0,2.400 l-6.200,-.8z"/>
<path class="t" d="M301.700,402.500 L330,405.600"/>
</g>

<!-- ===== GASKET / THROTTLE BODY / BOLT ===== -->
<g id="throttle">
<path class="t" d="M330,405.600 L449.200,419.100"/>
<path class="lead" d="M364.100,385V407"/>
<path class="lead" d="M410.400,391V412.500"/>
<path class="lead" d="M461.400,398V419"/>
<!-- gasket 35101 -->
<g class="w"><circle cx="364.200" cy="410.500" r="3.400"/><circle cx="361" cy="452.300" r="3.400"/><circle cx="346.200" cy="428.800" r="3.400"/><circle cx="379.300" cy="433.800" r="3.400"/></g>
<ellipse class="w" cx="362.500" cy="431.300" rx="14.800" ry="18.600"/>
<ellipse cx="362.500" cy="431.300" rx="15.600" ry="19.400" fill="none" stroke="#fff" stroke-width=".1"/>
<ellipse class="w" cx="362.500" cy="431.300" rx="11.400" ry="15.200"/>
<circle class="l" cx="364.200" cy="409.700" r="1.500"/><circle class="l" cx="361" cy="453.100" r="1.500"/><circle class="l" cx="345.500" cy="428.800" r="1.500"/><circle class="l" cx="380" cy="433.800" r="1.500"/>
<!-- throttle body -->
<path class="w" d="M391.400,432 L393,424 L396.700,418.100 L403,414 L403.500,411.500 L408,410 L417,411 L418.700,414 L424,416 L432.400,423.300 L436.600,432 L437.500,441 L436.600,452 L433,454 L432,464.400 L425.800,471.500 L422.200,473.300 L410,466 L398,452z"/>
<path class="l" d="M403,414 l5,1.500 l10,-1 M408,410 v5.500 M412,411 l.3,3.500 M396.700,418.100 q8,-3 14,2 M393,424 q9,-4 17,3"/>
<ellipse class="w" cx="422.900" cy="439.100" rx="13.600" ry="16.800"/>
<ellipse class="l" cx="423.500" cy="439.100" rx="11.300" ry="14.400"/>
<path class="l" d="M414,432 q-2.500,8 0,15 M417.500,428 q-3,11 0,22 M432,449 q2,3 1,6"/>
<path class="l" d="M427,455 q4,3 3,9 q-2,5 -6,8"/>
<!-- motor housing -->
<path d="M377.200,444.600 L384.400,433.800 L395.200,432 L400.600,441 L411.400,457.200 L424,473.300 L422.200,482.300 L413.200,485.900 L400.600,482.300 L386.200,464.400 L379,453.600z" fill="#f4f4f4" stroke="#222" stroke-width="1.400" stroke-linejoin="round"/>
<path class="w" d="M384.400,433.800 l2.500,-4.500 l8,-.8 l4,2.500 l-1.700,3.500 l-3.500,3 l-6,-.5z"/>
<ellipse class="l" cx="391" cy="431.800" rx="2.600" ry="1.500"/>
<path d="M380.500,446 L386.500,437.500 L395,438.500 L408,457 L419.500,473.500 L419,480 L413,482.500 L402.500,479.500 L389.500,463 L382,452z" fill="none" stroke="#222" stroke-width="1"/>
<path d="M384,447 q3,-4 7,-3 q6,6 12,16 q6,8 10,15 M382.500,450 q10,12 24,30 M388,442.500 l20,28" stroke="#333" stroke-width="1" fill="none"/>
<path d="M384.500,452 l7,-6 M387.500,456.500 l8,-7 M390.500,461 l8.500,-7.500 M394,465.500 l9,-7.500 M398,470 l9,-7.500 M402,474.500 l9,-7.500 M406,478.500 l8.500,-7" stroke="#333" stroke-width=".9" fill="none"/>
<path class="k" d="M386,449 l2.500,-2 l1.500,2 l-2.500,2z M393,459 l2.500,-2 l1.500,2 l-2.500,2z M400,468.500 l2.500,-2 l1.500,2 l-2.500,2z M407,477 l2.500,-2 l1.500,2 l-2.500,2z M396.500,447 l2,-1.500 l1.500,2 l-2,1.500z M404,458 l2,-1.500 l1.500,2 l-2,1.500z M411,468 l2,-1.500 l1.500,2 l-2,1.500z"/>
<path class="w" d="M412,461 l4,-2.500 l5,4.500 l3,7.500 l-3,1z"/>
<!-- bolt 1123GE -->
<path class="g" d="M445,417.600 l13.500,1.600 v3 l-13.500,-1.600z"/>
<path class="t" d="M447,418 v2.800 M449,418.200 v2.800 M451,418.400 v2.800"/>
<path class="k" d="M458.600,418.100 l5,-.3 l2.400,1.600 v3.800 l-2.400,1.500 l-5,-.3z"/>
<circle cx="462.500" cy="421.200" r="1.300" fill="#999"/>
</g>
<!-- bottom-left arrow -->
<path d="M72,491.900 L80,492.300 L84.600,491 L90.600,494 L83.500,500.500 L72.300,500.500z" fill="#111"/>

<!-- ===== RIGHT PANEL: VALVE / BRACKET / HOSES ===== -->
<g id="rightpanel">
<!-- leaders -->
<path class="lead" d="M508,110V122.300"/>
<path class="lead" d="M564,79H577"/>
<path class="lead" d="M574,99H585"/>
<path class="lead" d="M559.400,80.500V99.500M559.400,109.500V142.500"/>
<path class="t" d="M510.800,128.300 L543.300,148.300"/>
<path class="t" d="M573.300,165 L611.700,185.500"/>
<path class="lead" d="M640.500,205.300H652.500"/>
<!-- nuts -->
<path class="k" d="M555.800,75.500 l3,-1.300 l4,.8 l1.400,2.600 l-.8,3 l-3.600,1.200 l-3.600,-1.400 l-1.200,-2.600z"/>
<ellipse cx="559.800" cy="76.800" rx="2.300" ry="1.400" fill="#aaa"/>
<path class="k" d="M504.200,124 l3,-1.800 l3.800,.8 l1.400,2.800 l-.8,3 l-3.400,1.400 l-3.600,-1.400 l-1.200,-2.600z"/>
<ellipse cx="507.800" cy="125.300" rx="2.200" ry="1.400" fill="#aaa"/>
<!-- bracket 35335 -->
<path class="w" d="M544,106.500 Q544.500,109 546.500,109.300 L555,109.500 L573,99.500 Q574.500,97.500 573.500,96 Q571.500,93.500 569.500,94 Q567.500,95 567,98 L556,99 L553,105 L545,105.500z"/>
<path class="w" d="M545,105.500 L545.500,99 Q546,97 548,97 Q550,97 550.300,98.500 L550.500,105z"/>
<path class="l" d="M547.500,98 l.4,7"/>
<path class="w" d="M560,98.500 L561,90 Q561.500,88.500 563.500,88.500 Q565.500,88.700 565.500,90.500 L565,98.500z"/>
<path class="l" d="M563,89.500 l-.4,8.500"/>
<ellipse class="k" cx="559.500" cy="101.200" rx="1.400" ry=".9"/>
<!-- black swoosh -->
<path d="M574.200,148 Q586,146 595.500,141.500 Q612,133.500 624.200,123.300 L629.200,131.700 Q612,142 595,146 Q584,148.500 574.200,148.500z" fill="#111"/>
<!-- valve body -->
<g id="valve">
<path class="w" d="M560,142.500 L566.700,140 L573.300,145 L573.300,161.700 L571.700,173.300 L571.700,193.300 L568.300,200 L560,200 L559.200,205.800 L550,207.500 L544.200,203.300 L545,183.300 L540,186.700 L526.700,181.700 L523.300,171.700 L523.300,161.700 L533.300,156.700 L532.500,150 L536,146.700 L540.800,148.500 L545,148.300 L553.300,145z"/>
<path d="M523.300,163.300 L533.300,157.500 L545,161.700 L548.300,170 L548.300,181.700 L540,186.700 L526.700,181.700 L523.300,171.700z" fill="#fff" stroke="#222" stroke-width="1.100" stroke-linejoin="round"/>
<path d="M523.300,163.300 L530.800,160 L531.200,181 L526.700,181.700 L523.300,171.700z" fill="#cbcbcb" stroke="#222" stroke-width=".9" stroke-linejoin="round"/>
<path d="M530.800,160 L538,163 L539.500,186 L531.200,181z" fill="#dcdcdc" stroke="#222" stroke-width=".9" stroke-linejoin="round"/>
<path d="M529,165 h1.800 v11.500 h-1.800z" fill="#222"/>
<path d="M533,174 l2,.8 v4 l-2,-.8z" fill="#555"/>
<path class="l" d="M523.300,163.300 L533.300,157.500 L545,161.700 L538,165 L530.800,160 M538,165 L539.500,186"/>
<ellipse class="w" cx="543.500" cy="175" rx="4.600" ry="8" transform="rotate(-8 543.500 175)"/>
<path class="l" d="M539.500,168 q4,-4 8,0"/>
<path class="l" d="M533.300,156.700 l6,-3 l6,2.500 v5.500 M545,148.300 v10 l5,5 l10,-1.600 V147.500 M560,147.500 l-6.700,-2.500 M560,147.500 l6.700,-2.500 l0,-5 M566.700,145 l6.600,0 M560,161.700 l8.300,3.300 l5,-3.300 M568.300,165 v10"/>
<ellipse class="l" cx="552.500" cy="151.500" rx="4.500" ry="2.700"/><ellipse class="l" cx="552.500" cy="151.500" rx="2.300" ry="1.300"/>
<ellipse class="l" cx="566.300" cy="143.500" rx="2.700" ry="1.600"/>
<path class="l" d="M532.500,150 q-2,3.500 .8,6.700 M540.800,148.500 q2,3.500 0,7"/>
<path class="w" d="M545,151.900 L550.400,147.300 L559.600,149.600 L561.200,162.700 L553.500,164.200 L545.800,161.200z"/>
<ellipse class="l" cx="552.800" cy="150.800" rx="5" ry="2.600" transform="rotate(10 552.800 150.800)"/>
<path class="l" d="M546,155 q7,3.500 14.500,-.5 M553.500,164.200 v4"/>
<path class="w" d="M533.500,148.100 L539.600,146.500 L544.200,150.400 L543.500,156.500 L535.800,155.800 L532.700,151.900z"/>
<ellipse class="l" cx="536" cy="151.800" rx="2.600" ry="3.800"/>
<path class="l" d="M573.500,156.500 L574.200,171.900 L570.400,182.700 L571.200,196.500 L567.300,201.200 M561.200,162.700 l8.400,3.100"/>
<circle class="w" cx="565" cy="160" r="4.200"/><circle class="l" cx="565.500" cy="160" r="2.200"/>
<circle class="w" cx="566.700" cy="192.500" r="4.200"/><circle class="l" cx="567.200" cy="192.500" r="2.200"/>
<path class="l" d="M548.300,170 q5,-3 8,1 q2,4 -1,8 q-4,2.500 -7,-.5 M557.500,168.300 L562.500,171.700 L557.500,176 z M556,180 l6,4 l6,-4 M548.300,181.700 l5,3 l6,-1.500"/>
<circle class="k" cx="554.200" cy="178.300" r="1.700"/><circle class="k" cx="567.500" cy="160" r="1"/>
<path class="l" d="M544.200,193.300 L559.200,195.800 L559.200,205.800 M544.200,193.300 q7,-3 15,0 M560,183 v12"/>
<path class="k" d="M546.500,203 l6,1.200 v1.300 l-6,-1.200z"/>
</g>
<path class="t" d="M553,208.300V253 M567,201.700V241"/>
<!-- bracket 33022A -->
<g id="brk">
<path class="l" d="M575,166 L611.700,185.800 M591.700,175 L606,183"/>
<path class="w" d="M586.700,197.500 L590.800,187.500 L606.700,185 L625,191.700 L623.300,196.700 L601.700,208.300 L586.700,200z"/>
<path class="l" d="M590.800,187.500 L595,196.700 L586.700,197.500 M595,196.700 L603.300,201.700 M603.300,200 L611.700,204.200 L620,200 M598,190 l10,5 M606.700,185 l3,-2 l4,2.500"/>
<path class="l" d="M601.700,208.300 L601.700,228.300 L589.200,228.300 L589.200,240 L605,238.300"/>
<path class="w" d="M623.300,193.300 L636.700,185 L640.500,187.500 L640.500,208.300 L645,213.300 L644.200,226.700 L636.700,236.700 L625,241.700 L618.300,245 L608.300,252.500 L605,250 L605,221.700 L611.700,213.300 L623.300,211.700z"/>
<path class="l" d="M638.700,186.500 V209 L643,214" stroke-width="1.300"/>
<path class="l" d="M623.300,211.700 L625,241.700 M611.700,213.300 l1,5 M606.500,222 l5,-5.500 l11,-1.500"/>
<circle class="w" cx="632.500" cy="198.300" r="4.400"/><circle class="l" cx="633.300" cy="197.500" r="3"/>
<circle class="w" cx="636.700" cy="227.500" r="5.800"/><circle class="l" cx="637.500" cy="226" r="3.600"/><path class="l" d="M633.700,226.500 v3 q3,3 7.500,.5 v-3"/>
<circle class="w" cx="610.800" cy="223.300" r="3.800" stroke-width="1.300"/><circle class="l" cx="611.300" cy="223" r="2"/>
<circle class="w" cx="610.800" cy="246.200" r="3.800" stroke-width="1.300"/><circle class="l" cx="611.300" cy="246" r="2"/>
<path d="M620,221.700 L628.300,210" stroke="#333" stroke-width="4.200" stroke-linecap="round" fill="none"/>
<path d="M620,221.700 L628.300,210" stroke="#fff" stroke-width="2.400" stroke-linecap="round" fill="none"/>
<path class="l" d="M614.500,222 l5,0"/>
<!-- stud -->
<path class="w" d="M576.700,216.700 L578.300,214.200 L582.500,212.500 L583.300,215.800 L587.500,217.500 L587.500,223.300 L576.700,221.700z"/>
<path class="l" d="M581.700,209.500 v4 M585.800,223.300 V241.700"/>
</g>
<!-- hoses -->
<g id="hoses">
<path d="M466.0,243.0 C467.9,244.2 464.3,243.3 471.7,246.5 C479.1,249.7 475.5,251.0 488.3,252.5 C501.1,254.0 497.9,252.8 510.0,251.0 C522.1,249.2 516.5,246.7 524.5,247.0 C532.5,247.3 526.5,247.0 534.0,252.0 C541.5,257.0 540.5,259.0 547.0,262.0 C553.5,265.0 551.3,261.3 553.5,261.0" fill="none" stroke="#333" stroke-width="4.8" stroke-linecap="butt"/><path d="M466.0,243.0 C467.9,244.2 464.3,243.3 471.7,246.5 C479.1,249.7 475.5,251.0 488.3,252.5 C501.1,254.0 497.9,252.8 510.0,251.0 C522.1,249.2 516.5,246.7 524.5,247.0 C532.5,247.3 526.5,247.0 534.0,252.0 C541.5,257.0 540.5,259.0 547.0,262.0 C553.5,265.0 551.3,261.3 553.5,261.0" fill="none" stroke="#fff" stroke-width="2.8" stroke-linecap="butt"/>
<path d="M477.0,192.0 C474.7,190.5 478.4,188.7 470.0,187.5 C461.6,186.3 461.1,186.1 451.7,188.3 C442.3,190.5 447.3,187.5 441.7,194.2 C436.1,200.9 436.4,201.1 435.0,208.3 C433.6,215.5 433.1,211.1 437.5,215.8 C441.9,220.5 439.7,216.9 448.3,222.5 C456.9,228.1 452.7,226.1 463.3,232.5 C473.9,238.9 468.9,237.8 480.0,241.7 C491.1,245.6 485.6,243.9 496.7,244.2 C507.8,244.5 502.8,244.7 513.3,242.5 C523.8,240.3 518.8,239.4 528.3,237.5 C537.8,235.6 532.5,236.4 541.7,236.7 C550.9,237.0 548.6,235.4 556.0,238.5 C563.4,241.6 561.3,243.5 564.0,246.0" fill="none" stroke="#333" stroke-width="5.2" stroke-linecap="butt"/><path d="M477.0,192.0 C474.7,190.5 478.4,188.7 470.0,187.5 C461.6,186.3 461.1,186.1 451.7,188.3 C442.3,190.5 447.3,187.5 441.7,194.2 C436.1,200.9 436.4,201.1 435.0,208.3 C433.6,215.5 433.1,211.1 437.5,215.8 C441.9,220.5 439.7,216.9 448.3,222.5 C456.9,228.1 452.7,226.1 463.3,232.5 C473.9,238.9 468.9,237.8 480.0,241.7 C491.1,245.6 485.6,243.9 496.7,244.2 C507.8,244.5 502.8,244.7 513.3,242.5 C523.8,240.3 518.8,239.4 528.3,237.5 C537.8,235.6 532.5,236.4 541.7,236.7 C550.9,237.0 548.6,235.4 556.0,238.5 C563.4,241.6 561.3,243.5 564.0,246.0" fill="none" stroke="#fff" stroke-width="3.2" stroke-linecap="butt"/>
<path d="M477.0,198.0 C475.2,196.3 477.9,194.4 471.7,192.8 C465.5,191.2 465.8,191.5 458.3,193.3 C450.8,195.1 454.1,193.3 449.2,198.3 C444.3,203.3 445.1,203.3 443.5,208.3 C441.9,213.3 441.8,210.0 444.3,213.3 C446.8,216.6 444.1,213.3 451.0,218.3 C457.9,223.3 460.3,225.0 465.0,228.3" fill="none" stroke="#333" stroke-width="4.8" stroke-linecap="butt"/><path d="M477.0,198.0 C475.2,196.3 477.9,194.4 471.7,192.8 C465.5,191.2 465.8,191.5 458.3,193.3 C450.8,195.1 454.1,193.3 449.2,198.3 C444.3,203.3 445.1,203.3 443.5,208.3 C441.9,213.3 441.8,210.0 444.3,213.3 C446.8,216.6 444.1,213.3 451.0,218.3 C457.9,223.3 460.3,225.0 465.0,228.3" fill="none" stroke="#fff" stroke-width="2.8" stroke-linecap="butt"/>
<path d="M470.0,211.0 C469.8,215.0 467.8,216.3 469.5,223.0 C471.2,229.7 469.5,225.8 475.0,231.0 C480.5,236.2 482.3,236.0 486.0,238.5" fill="none" stroke="#333" stroke-width="4.6" stroke-linecap="butt"/><path d="M470.0,211.0 C469.8,215.0 467.8,216.3 469.5,223.0 C471.2,229.7 469.5,225.8 475.0,231.0 C480.5,236.2 482.3,236.0 486.0,238.5" fill="none" stroke="#fff" stroke-width="2.6" stroke-linecap="butt"/>
<path d="M478.5,211.0 C478.2,214.8 475.7,216.2 477.5,222.5 C479.3,228.8 478.8,224.8 484.0,230.0 C489.2,235.2 490.0,235.3 493.0,238.0" fill="none" stroke="#333" stroke-width="4.6" stroke-linecap="butt"/><path d="M478.5,211.0 C478.2,214.8 475.7,216.2 477.5,222.5 C479.3,228.8 478.8,224.8 484.0,230.0 C489.2,235.2 490.0,235.3 493.0,238.0" fill="none" stroke="#fff" stroke-width="2.6" stroke-linecap="butt"/>
<!-- connector block -->
<path class="w" d="M458.300,198.300 L465,194.200 L481.700,194.200 L486.700,197.500 L486.700,208.300 L480,213.300 L468.300,212.500 L458.300,205z"/>
<path class="l" d="M458.300,201 L468.300,207 L480,208 L486.700,203 M468.300,207 v5.500 M480,208 v5"/>
<path class="k" d="M466,199 l4,-1 l3,2.500 l-1,5 l-3.500,1 l-2.500,-3z"/>
<path class="l" d="M472,196 l6,0 l3,3 M474,202 l5,1"/>
<!-- clamp -->
<path class="w" d="M459.200,228.300 L466.700,225 L469.200,230 L468.300,241.700 L463.300,243.300 L460,238.300z"/>
<path class="l" d="M466.700,225 l-2,5 l-.5,12 M459.200,228.300 l5,2"/>
<!-- fittings -->
<path class="k" d="M551.500,252.500 h5 l1,1.500 v3.500 h-7 v-3.500z"/><path class="w" d="M550.500,257.500 h7 l.5,4 l-2.500,2.500 h-3.500 l-2,-3z"/>
<path class="k" d="M564.500,241.500 h5 l1,1.500 v3.500 h-7 v-3.500z"/><path class="w" d="M563.500,246.500 h7 l.5,4 l-2.500,2.500 h-3.500 l-2,-3z"/>
<!-- lower-left small pipes -->
<path class="l" d="M479.500,247.500 L479.500,273.300 L484,277.900 L497,277.900 L513.300,272 M482.100,249 L482.100,272.500 L485.500,275.500 L496.500,275.500 L512.500,269.500"/>
<path class="l" d="M493,266 L493.800,283.300 L496,287.900 L503.500,286.200 L518.300,277 M495.500,266 L496.200,282.500 L497.500,285.300 L503,284 L517.500,274.500"/>
<path class="w" d="M492.500,254.500 h4 l.8,3 v7 l-1,1.800 h-3.600 l-1,-1.800 v-7z"/>
<path class="l" d="M491.700,259 h5.600 M491.700,262 h5.600 M494.500,250.500 v4"/>
<path class="l" d="M479.500,247.500 h2.600 M478.800,269 h4"/>
<!-- diagonal hose -->
<path class="l" d="M500,253.300 L510,261.700 L521.700,268.300 L528.300,273.300 M503.500,251 L513,259 L524,265.500 L531.700,270.500"/>
<!-- block -->
<path class="w" d="M517.500,279.200 L521.700,274.200 L531.700,270 L538.300,273.300 L541.700,281.700 L545,283.300 L546.700,290 L541.700,293.300 L528.300,291.700 L518.300,285z"/>
<path class="l" d="M521.700,274.200 L526,278 L536,281 L541.700,281.700 M526,278 L524.500,288.500 M519,282 L528,287.500 L540,289.500 M531.700,270 l3,5 l5,2.500"/>
<path class="w" d="M528,271.500 q3,-3 6,-1.500 l6,6 q1,3 -1.500,4.500 l-7,-5z"/>
<path class="k" d="M528.500,285 l2,-1 l1,2 l-2,1z"/>
<!-- roller -->
<path class="w" d="M546.700,285 L553.300,284 L556,290 L553.300,296 L546.700,293z"/>
<ellipse cx="558.300" cy="290.800" rx="4.300" ry="5.600" fill="#888" stroke="#222" stroke-width="1"/>
<ellipse class="w" cx="560.300" cy="290.800" rx="3" ry="4.600"/>
<!-- pipes to right -->
<path class="l" d="M563.3,288.3 C580.5,288.9 588.3,289.4 615.0,290.0 C641.7,290.6 623.3,295.8 643.3,290.0 C663.3,284.2 664.4,278.3 675.0,272.5"/>
<path class="l" d="M563.3,291.7 C580.5,292.5 588.3,293.5 615.0,294.2 C641.7,294.9 622.2,300.1 643.3,293.7 C664.4,287.3 666.6,281.2 678.3,275.0"/>
<path class="l" d="M541.7,293.3 C547.8,294.2 538.3,294.3 560.0,296.0 C581.7,297.7 587.3,298.6 606.7,298.3 C626.1,298.0 610.0,296.4 618.3,295.0 C626.6,293.6 621.1,293.9 631.7,294.2 C642.3,294.5 633.6,301.4 650.0,295.8 C666.4,290.2 670.5,283.6 680.8,277.5"/>
<path class="l" d="M536.7,293.0 C540.6,295.0 540.5,296.5 548.3,299.0 C556.1,301.5 542.2,299.1 560.0,300.5 C577.8,301.9 583.9,303.5 601.7,303.3 C619.5,303.1 605.0,302.2 613.3,300.0 C621.6,297.8 617.8,297.8 626.7,296.7 C635.6,295.6 630.0,296.2 640.0,296.7 C650.0,297.2 640.0,303.9 656.7,298.3 C673.4,292.7 678.9,286.1 690.0,280.0"/>
<path class="l" d="M528.3,291.7 C533.9,295.0 534.4,297.5 545.0,301.5 C555.6,305.5 542.2,301.8 560.0,303.8 C577.8,305.8 581.6,307.1 598.3,307.5 C615.0,307.9 601.1,307.8 610.0,305.0 C618.9,302.2 615.0,301.1 625.0,299.2 C635.0,297.3 627.2,298.7 640.0,299.2 C652.8,299.7 645.0,306.1 663.3,300.8 C681.6,295.5 684.4,289.1 695.0,283.3"/>
<path class="l" d="M524.0,290.0 C529.3,294.0 528.0,295.9 540.0,302.0 C552.0,308.1 542.2,304.5 560.0,308.3 C577.8,312.1 577.7,312.2 593.3,313.3 C608.9,314.4 596.1,315.0 606.7,311.7 C617.3,308.4 613.9,306.1 625.0,303.3 C636.1,300.5 628.3,302.5 640.0,303.3 C651.7,304.1 647.8,306.9 660.0,305.8 C672.2,304.7 665.0,305.5 676.7,300.0 C688.4,294.5 688.9,292.8 695.0,289.2"/>
</g>
<!-- REF arrow -->
<path class="lead" d="M446.500,312.500 H508.500 L519.500,293"/>
<path class="k" d="M520.300,291.300 l.4,6.200 l-4.400,-2.500z"/>
</g>

<!-- ===== INNER BOX CONTENTS ===== -->
<g id="inner">
<!-- leaders -->
<path class="lead" d="M668,53.200H679.700"/>
<path class="lead" d="M713.700,36.500V44"/>
<path class="lead" d="M755.800,38.500V76.500"/>
<path class="lead" d="M689,80H706.400"/>
<path class="lead" d="M705.500,89.600H721"/>
<!-- long lines -->
<path class="t" d="M682,35.500 L755.300,75.500 M683.700,39.700 L748.700,78"/>
<path class="t" d="M727.800,55.500 L738.700,61.300 L725.300,68.800 L715.300,63.800 M696.700,55 L746.700,82.500"/>
<!-- sensor + wire -->
<path class="w" d="M637.800,37.200 L645.300,35.500 L648.700,39.700 L647.800,45.500 L640.300,47.200 L637.800,43z"/>
<ellipse class="l" cx="640.500" cy="42" rx="2.600" ry="4.600" transform="rotate(-15 640.500 42)"/>
<path class="w" d="M648.700,38 l4,-1 l.8,3.500 l-4.200,1.200z"/>
<path class="l" stroke-width="1.400" d="M652.800,38.800 L657.800,33 L659.500,26.300 L661.200,23.800 L663.700,24.700 L672,28.800"/>
<path d="M654,37.300 L658.700,31.500" stroke="#888" stroke-width="2.600" fill="none"/>
<circle class="l" cx="661.500" cy="24.300" r="1.600"/>
<path class="k" d="M672,28.300 l4,-.8 l5,3 l1.500,3 l-2,2.200 l-4.500,-1.500 l-4,-3z"/>
<path d="M675,28.500 l-1.500,4 M678,30 l-1.500,4.500" stroke="#ccc" stroke-width=".6"/>
<!-- solenoid 33425 -->
<path class="w" d="M679.500,41.300 L685.300,39.700 L693.700,45.500 L695.300,52.200 L689.500,58 L682,56.300 L678.700,49.700z"/>
<ellipse cx="682.300" cy="48.300" rx="3.600" ry="7.600" transform="rotate(-20 682.300 48.300)" fill="#f0f0f0" stroke="#222" stroke-width="1"/>
<path class="l" d="M685.300,39.700 q5,4 6.500,9 q1,6 -2.300,9.300 M691,44 l3,3"/>
<ellipse class="l" cx="692" cy="51.500" rx="2.500" ry="4.500" transform="rotate(-20 692 51.500)"/>
<!-- screw -->
<path class="k" d="M681,60 l2,-.6 l4.500,2 l-.3,1.500 l-2,.3 l-4.300,-1.800z"/>
<!-- flange -->
<path d="M689.600,62.500 L695,58.500 L700.500,58 L703.300,62 L700,67 L696,77.500 L691.500,78 L690.300,74 L692.500,68z" fill="#2e2e2e" stroke="#222" stroke-width="1" stroke-linejoin="round"/>
<ellipse cx="698.600" cy="70.500" rx="4" ry="5.600" transform="rotate(18 698.600 70.500)" fill="#fff" stroke="#222" stroke-width="1.100"/>
<ellipse cx="699.300" cy="70.800" rx="2.600" ry="4" transform="rotate(18 699.300 70.800)" fill="none" stroke="#333" stroke-width=".8"/>
<!-- o-ring 35312C -->
<ellipse cx="712" cy="76.600" rx="4.500" ry="5.900" transform="rotate(22 712 76.600)" fill="none" stroke="#333" stroke-width="1.700"/>
<!-- 35370 part -->
<path class="w" d="M711.200,45.500 L715.300,43.800 L720.300,47.200 L725.300,48.800 L727.800,52.200 L727,56.300 L722.800,55.500 L718.700,53 L713.700,51.300 L711.200,48.800z"/>
<path class="l" d="M715.300,43.800 q-2,3.500 0,7.500 M720.300,47.200 q-1.500,3 -.5,6.500"/>
<path class="k" d="M722.500,48.300 l3,1 l2,3 l-.6,3.500 l-3.500,-.8 q-1.500,-3.500 -.9,-6.700z"/>
<!-- spring 32311 -->
<path class="k" d="M754.500,50.500 h2.600 v10.800 h-2.600z"/>
<path d="M754.500,52.500h2.600M754.500,54.500h2.600M754.500,56.500h2.600M754.500,58.500h2.600" stroke="#bbb" stroke-width=".6"/>
<!-- 26660P part -->
<path class="w" d="M719.200,82.500 L725,79.200 L731.700,82.500 L732.500,88.300 L726.700,90.800 L720.800,88.300z"/>
<path class="k" d="M726,81 l4.500,2 l1.500,5 l-4.500,2.300 q-2.500,-4.500 -1.500,-9.300z"/>
<ellipse class="l" cx="722.300" cy="85" rx="2.300" ry="3.600" transform="rotate(-20 722.300 85)"/>
<!-- small valve body -->
<path class="w" stroke-width="1.150" d="M756.500,74.300 L760.900,71.800 L765.200,74.300 L765.200,93.500 L762.700,101 L765.200,108.400 L762.700,115.900 L754.700,120.800 L748.500,119.600 L746,114.600 L746.600,103.500 L741.600,106.600 L735.400,103.500 L734.800,91.700 L741.600,88 L745.400,89.200 L745.400,80.500 L749.700,78 L754.700,79.900 L756.500,79z"/>
<path d="M734.800,91.700 L741.600,88 L746.600,91.100 L746.600,103.500 L741.600,106.600 L735.400,103.500z" fill="#f2f2f2" stroke="#222" stroke-width="1.100" stroke-linejoin="round"/>
<path d="M735.600,93 l4.500,2.200 v10.500 l-4.500,-2.200z" fill="#d0d0d0" stroke="#222" stroke-width=".9"/>
<path d="M736.800,96 l2,.9 v7 l-2,-.9z" fill="#666"/>
<path class="l" d="M740.100,95.200 l6.500,-4 M740.100,95.200 v10.500"/>
<path class="w" d="M745.400,80.500 L749.700,78 L754.700,79.900 L755.300,89.800 L750.300,91.700 L746,89.200z"/>
<ellipse class="l" cx="750" cy="80.300" rx="3.400" ry="1.800"/><ellipse class="l" cx="750" cy="80.300" rx="1.700" ry=".9"/>
<ellipse class="l" cx="760.900" cy="74" rx="3" ry="1.700"/>
<path class="l" d="M756.500,79 V86.100 L761.500,88.600 L765.200,86.100 M761.500,88.600 V99 M755.300,89.800 l2,3 l-1,6 M746.600,103.500 l5,3 l5.500,-2 l4.500,-5.500 M751.600,106.500 l.3,12 M757,104.500 l-.5,15.500"/>
<path class="l" d="M748,93 q4,-2.500 7,0 q2,4 0,8 q-3.500,2.500 -7,0 M757.500,92 l4,3 l-4,3.500z"/>
<circle class="w" cx="760.900" cy="85.500" r="3.200" stroke-width="1.400"/><circle class="k" cx="761.500" cy="85.500" r="1.200"/>
<circle class="w" cx="759.600" cy="110.300" r="3.200" stroke-width="1.400"/><circle class="k" cx="760.200" cy="110.300" r="1.200"/>
<circle class="k" cx="752.500" cy="99.500" r="1.100"/>
<path class="l" d="M748.500,113 q4,2 8,-.5 M748.500,119.600 l1,-6"/>
</g>

<!-- ===== CLIP 31337F ===== -->
<g id="clip">
<path d="M354.500,187 L355,183.500 L358,183 L359,186.500 L362,186.500 L362.500,182.800 L365.500,182.500 L366.500,187 L367.300,194 L366.500,200 L363,204 L357,204.500 L352,202 L350,196 L351.500,190z" fill="#4a4a4a" stroke="#333" stroke-width=".8" stroke-linejoin="round"/>
<path d="M352,192 q7,3 15,-1 M351,196 q8,3 16,-1 M351.500,199.500 q7,3 15,-.5 M354,202.500 q5,2 10,0" stroke="#999" stroke-width=".7" fill="none"/>
<path d="M356,186.500 l3.500,3.500 l-2,1.500z" fill="#ddd"/>
<path class="l" stroke-width="1.600" stroke="#555" d="M356.500,205 Q351,209 350.800,213 Q351.500,218 356,219.500 Q360,220 363,218"/>
<path class="l" stroke-width="1.300" stroke="#555" d="M358,206.500 Q362,204.500 366,205 L369.800,205.600 L368.600,209 L365,210.300 L364,207.500"/>
<path class="l" stroke="#555" d="M360,219.500 l1.500,-2.500 l2,1.500 M363,215.500 l.5,3"/>
</g>

<!--PARTS-->
</svg>
</body>
</html>
